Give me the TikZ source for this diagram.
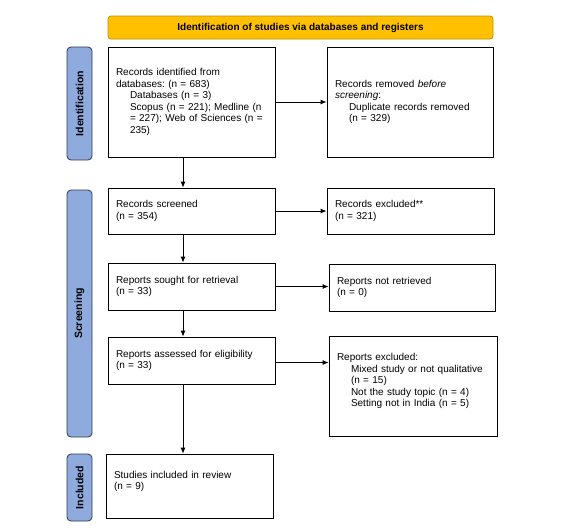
\documentclass[tikz,border=0pt]{standalone}
\usepackage{fontspec}
\setmainfont{Liberation Sans}
\usetikzlibrary{arrows.meta}
\definecolor{bannerfill}{HTML}{FFC000}
\definecolor{bannerdraw}{HTML}{C09000}
\definecolor{sidefill}{HTML}{8FAADC}
\definecolor{sidedraw}{HTML}{2E3A50}
\newcommand{\ind}{\hspace*{14pt}}
\frenchspacing
\begin{document}
\frenchspacing
\begin{tikzpicture}[x=1pt,y=-1pt,
  box/.style={draw=black, line width=0.8pt, fill=white, inner xsep=8pt, inner ysep=0pt,
    align=left, font=\fontsize{10}{11.5}\selectfont\frenchspacing},
  banner/.style={draw=bannerdraw, fill=bannerfill, rounded corners=3pt, line width=0.8pt,
    inner sep=0pt, minimum width=385pt, minimum height=23pt, font=\bfseries\fontsize{10}{12}\selectfont},
  side/.style={draw=sidedraw, fill=sidefill, rounded corners=4pt, line width=0.8pt,
    inner sep=0pt, rotate=90, minimum height=25pt, font=\bfseries\fontsize{10.5}{12}\selectfont},
  arr/.style={-{Latex[length=6pt,width=5pt]}, line width=0.8pt}]
\useasboundingbox (0,0) rectangle (569,531);
\fill[white] (0,0) rectangle (569,531);

\node[banner] (ban) at (300.5,27.5) {Identification of studies via databases and registers};

\node[side, minimum width=113pt] (idl) at (79.5,103.5) {Identification};
\node[side, minimum width=247pt] (scl) at (79.5,313.5) {Screening};
\node[side, minimum width=67pt] (inl) at (79.5,487.5) {Included};

\node[box, text width=151pt, minimum height=110pt] (b1) at (191.5,102) {Records identified from\\databases: (n = 683)\\\ind Databases (n = 3)\\\ind Scopus (n = 221); Medline (n\\\ind = 227); Web of Sciences (n =\\\ind 235)};
\node[box, text width=150pt, minimum height=110pt] (b1r) at (410,102) {Records removed \textit{before}\\\textit{screening}:\\\ind Duplicate records removed\\\ind (n = 329)};

\node[box, text width=151pt, minimum height=46pt] (b2) at (191.5,211) {Records screened\\(n = 354)};
\node[box, text width=151pt, minimum height=46pt] (b2r) at (410.5,211) {Records excluded**\\(n = 321)};

\node[box, text width=151pt, minimum height=47pt] (b3) at (191.5,286.5) {Reports sought for retrieval\\(n = 33)};
\node[box, text width=150pt, minimum height=47pt] (b3r) at (412,287.5) {Reports not retrieved\\(n = 0)};

\node[box, text width=151pt, minimum height=47pt] (b4) at (191.5,360.5) {Reports assessed for eligibility\\(n = 33)};
\node[box, text width=152pt, minimum height=100pt] (b4r) at (413,386) {Reports excluded:\\\ind Mixed study or not qualitative\\\ind (n = 15)\\\ind Not the study topic (n = 4)\\\ind Setting not in India (n = 5)\\\mbox{}};

\node[box, text width=151pt, minimum height=64pt] (b5) at (189.5,486) {Studies included in review\\(n = 9)\\\mbox{}};

\coordinate (col) at (183,0);
\draw[arr] (b1.south -| col) -- (b2.north -| col);
\draw[arr] (b2.south -| col) -- (b3.north -| col);
\draw[arr] (b3.south -| col) -- (b4.north -| col);
\draw[arr] (b4.south -| col) -- (b5.north -| col);

\draw[arr] (b1.east) -- (b1.east -| b1r.west);
\draw[arr] (b2.east) -- (b2.east -| b2r.west);
\draw[arr] (b3.east) -- (b3.east -| b3r.west);
\draw[arr] ([yshift=-2pt]b4.east) -- ([yshift=-2pt]b4.east -| b4r.west);
\end{tikzpicture}
\end{document}
